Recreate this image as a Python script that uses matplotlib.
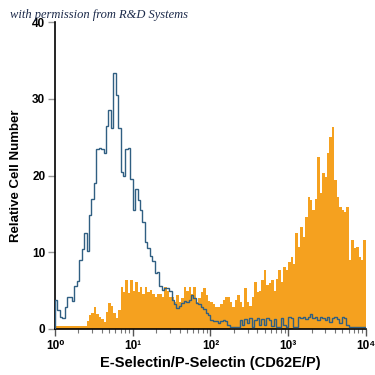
import numpy as np
import matplotlib
matplotlib.use("Agg")
import matplotlib.pyplot as plt
from matplotlib.ticker import FixedLocator, NullFormatter

# histogram channels (128 log-spaced bins from 10^0 to 10^4)
isotype = [3.8, 2.5, 1.6, 1.4, 2.8, 4.2, 4.2, 3.6, 5.6, 6.3,
           9.0, 10.4, 12.5, 10.2, 14.8, 17.0, 19.0, 23.5, 23.6, 23.5,
           22.9, 26.5, 28.5, 26.2, 33.4, 30.5, 26.2, 20.5, 20.0, 23.4,
           23.6, 19.5, 15.5, 18.2, 16.8, 15.5, 14.0, 11.3, 10.5, 9.5,
           8.8, 7.3, 7.4, 5.6, 5.1, 5.3, 5.3, 5.0, 3.8, 3.2,
           2.7, 3.0, 3.4, 3.6, 3.5, 3.8, 4.4, 4.0, 3.4, 3.3,
           2.9, 2.6, 2.1, 1.8, 1.2, 1.0, 1.0, 0.8, 1.0, 1.2,
           1.0, 0.5, 0.3, 0.3, 0.3, 0.3, 1.2, 0.5, 1.3, 0.8,
           1.4, 0.3, 1.2, 1.4, 0.5, 1.3, 0.5, 1.4, 1.2, 0.4,
           1.3, 0.3, 0.3, 1.4, 0.5, 0.3, 1.5, 1.4, 0.3, 0.3,
           1.5, 1.4, 1.5, 1.3, 1.5, 2.0, 1.4, 1.5, 1.2, 1.5,
           1.4, 1.2, 1.5, 0.9, 1.4, 1.5, 1.3, 0.8, 1.5, 1.4,
           0.5, 0.3, 0.3, 0.3, 0.3, 0.3, 0.3, 0.3]

cd62 = [0.4, 0.4, 0.4, 0.4, 0.4, 0.4, 0.4, 0.4, 0.4, 0.4,
        0.4, 0.4, 0.4, 1.0, 1.8, 2.1, 2.8, 2.0, 1.5, 1.3,
        0.9, 2.2, 3.4, 3.0, 2.1, 1.4, 2.5, 5.5, 4.8, 6.4,
        4.7, 6.4, 5.0, 6.1, 4.8, 5.5, 4.5, 5.5, 4.8, 5.1,
        4.5, 4.2, 4.6, 4.5, 4.2, 5.5, 5.0, 4.2, 4.2, 3.5,
        4.4, 3.5, 4.0, 5.5, 5.0, 5.5, 4.5, 5.5, 3.5, 4.0,
        4.8, 5.3, 4.4, 3.6, 3.5, 3.3, 2.9, 2.9, 3.3, 3.8,
        4.2, 4.2, 3.5, 2.9, 3.8, 4.4, 3.5, 2.8, 5.3, 3.5,
        3.0, 4.2, 6.1, 4.8, 5.0, 6.4, 7.7, 5.7, 6.0, 6.4,
        5.0, 6.5, 7.7, 6.1, 8.1, 7.7, 8.7, 9.4, 8.5, 12.5,
        10.7, 13.3, 12.0, 14.6, 17.2, 16.8, 15.5, 17.0, 22.4, 17.7,
        20.3, 19.8, 22.9, 25.0, 26.3, 19.4, 17.2, 15.9, 15.5, 15.2,
        15.9, 9.0, 11.6, 10.5, 10.7, 9.4, 9.0, 11.6]

xticks = [1, 10, 100, 1000, 10000]
xticklabels = ["10⁰", "10¹", "10²", "10³", "10⁴"]
yticks = [0, 10, 20, 30, 40]

edges = np.logspace(0, 4, len(cd62) + 1)
fnt = ["Liberation Sans Narrow", "Liberation Sans", "DejaVu Sans"]

fig = plt.figure(figsize=(3.75, 3.75), dpi=100)
ax = fig.add_axes([0.1467, 0.1227, 0.829, 0.8186])

ax.stairs(cd62, edges, fill=True, color="#f5a11f", zorder=2)
ax.stairs(isotype, edges, color="#305f82", linewidth=1.0, zorder=3)

ax.set_xscale("log")
ax.set_xlim(1, 10000)
ax.set_ylim(0, 40)

ax.spines["top"].set_visible(False)
ax.spines["right"].set_visible(False)
ax.spines["left"].set_linewidth(1.2)
ax.spines["bottom"].set_linewidth(1.2)

ax.set_xticks(xticks)
ax.set_xticklabels(xticklabels, fontfamily=fnt, fontweight="bold", fontsize=8.5)
minors = [m * d for d in xticks[:-1] for m in range(2, 10)]
ax.xaxis.set_minor_locator(FixedLocator(minors))
ax.xaxis.set_minor_formatter(NullFormatter())
ax.tick_params(axis="x", which="major", length=5, width=1, color="#555555", direction="out", pad=3)
ax.tick_params(axis="x", which="minor", length=3, width=0.8, color="#777777", direction="out")

ax.set_yticks(yticks)
ax.set_yticklabels([str(v) for v in yticks], fontfamily=fnt, fontweight="bold", fontsize=8.5)
ax.tick_params(axis="y", length=5, width=1, color="#999999", direction="out", pad=2)

ax.set_xlabel("E-Selectin/P-Selectin (CD62E/P)", fontfamily=fnt, fontweight="bold", fontsize=10.5, labelpad=3)
ax.set_ylabel("Relative Cell Number", fontfamily=fnt, fontweight="bold", fontsize=9.5, labelpad=7)

# watermark sits over the "40" label as in the original
fig.text(0.027, 0.952, "with permission from R&D Systems", fontfamily=["Liberation Serif", "DejaVu Serif"],
         fontstyle="italic", fontsize=9, color="#1c2a4a", zorder=10)

fig.savefig("out.png", dpi=100)
